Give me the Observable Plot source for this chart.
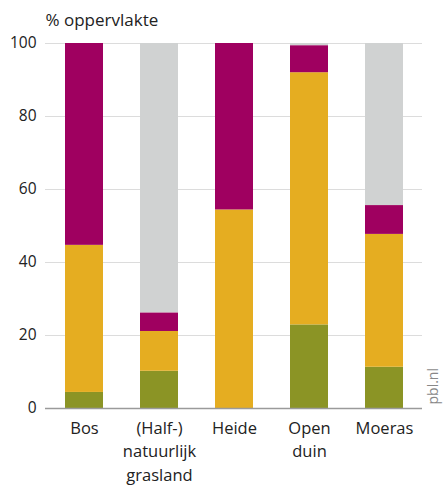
<!DOCTYPE html>
<html>
<head>
<meta charset="utf-8">
<script src="https://cdn.jsdelivr.net/npm/d3@7"></script>
<script src="https://cdn.jsdelivr.net/npm/@observablehq/plot@0.6"></script>
<style>
  html, body { margin: 0; padding: 0; background: #fff; }
  svg { font-family: "Open Sans", sans-serif; }
</style>
</head>
<body>
<div id="chart"></div>
<script>
const categories = ["Bos", "(Half-)natuurlijk grasland", "Heide", "Open duin", "Moeras"];
const tickLabels = ["Bos", "(Half-)\nnatuurlijk\ngrasland", "Heide", "Open\nduin", "Moeras"];
const seriesNames = ["groen", "oranje", "paars", "grijs"];
const seriesColors = ["#8b9425", "#e5ad21", "#9f0060", "#d0d2d2"];
const groen  = [4.4, 10.2, 0, 22.9, 11.3];
const oranje = [40.3, 10.9, 54.4, 69.1, 36.4];
const paars  = [55.3, 5.1, 45.6, 7.4, 7.9];
const grijs  = [0, 73.8, 0, 0.6, 44.4];
const yTicks = [0, 20, 40, 60, 80, 100];
const titleText = "% oppervlakte";
const sourceText = "pbl.nl";

const seriesValues = [groen, oranje, paars, grijs];
const data = [];
seriesNames.forEach((s, si) => {
  categories.forEach((c, ci) => {
    data.push({category: c, series: s, value: seriesValues[si][ci]});
  });
});
const labelMap = new Map(categories.map((c, i) => [c, tickLabels[i]]));

const chart = Plot.plot({
  width: 443,
  height: 485,
  marginLeft: 45,
  marginRight: 21,
  marginTop: 43,
  marginBottom: 77,
  style: {fontSize: "16px", fontFamily: "Open Sans, sans-serif", color: "#222"},
  x: {domain: categories, padding: 0.5, paddingOuter: 0.25, label: null},
  y: {domain: [0, 100], label: null},
  color: {domain: seriesNames, range: seriesColors},
  marks: [
    Plot.ruleY(yTicks.filter(d => d > 0), {stroke: "#dcdcdc", strokeWidth: 1}),
    Plot.barY(data, Plot.stackY({x: "category", y: "value", fill: "series", order: seriesNames})),
    Plot.ruleY([0], {stroke: "#9a9a9a", strokeWidth: 1.5}),
    Plot.axisY({ticks: yTicks, tickSize: 0, tickPadding: 9, label: null, fontSize: 15.5, fill: "#222"}),
    Plot.axisX({tickSize: 0, tickPadding: 8, label: null, tickFormat: d => labelMap.get(d), lineHeight: 1.45, fontSize: 16.5, fill: "#222"}),
    Plot.text([titleText], {frameAnchor: "top-left", text: d => d, dy: -18, lineAnchor: "bottom", textAnchor: "start", fontSize: 17, fill: "#222"}),
    Plot.text([sourceText], {frameAnchor: "bottom-right", text: d => d, rotate: -90, textAnchor: "start", lineAnchor: "middle", dx: 11, dy: -4, fontSize: 14, fill: "#888"})
  ]
});
document.getElementById("chart").appendChild(chart);
</script>
</body>
</html>
